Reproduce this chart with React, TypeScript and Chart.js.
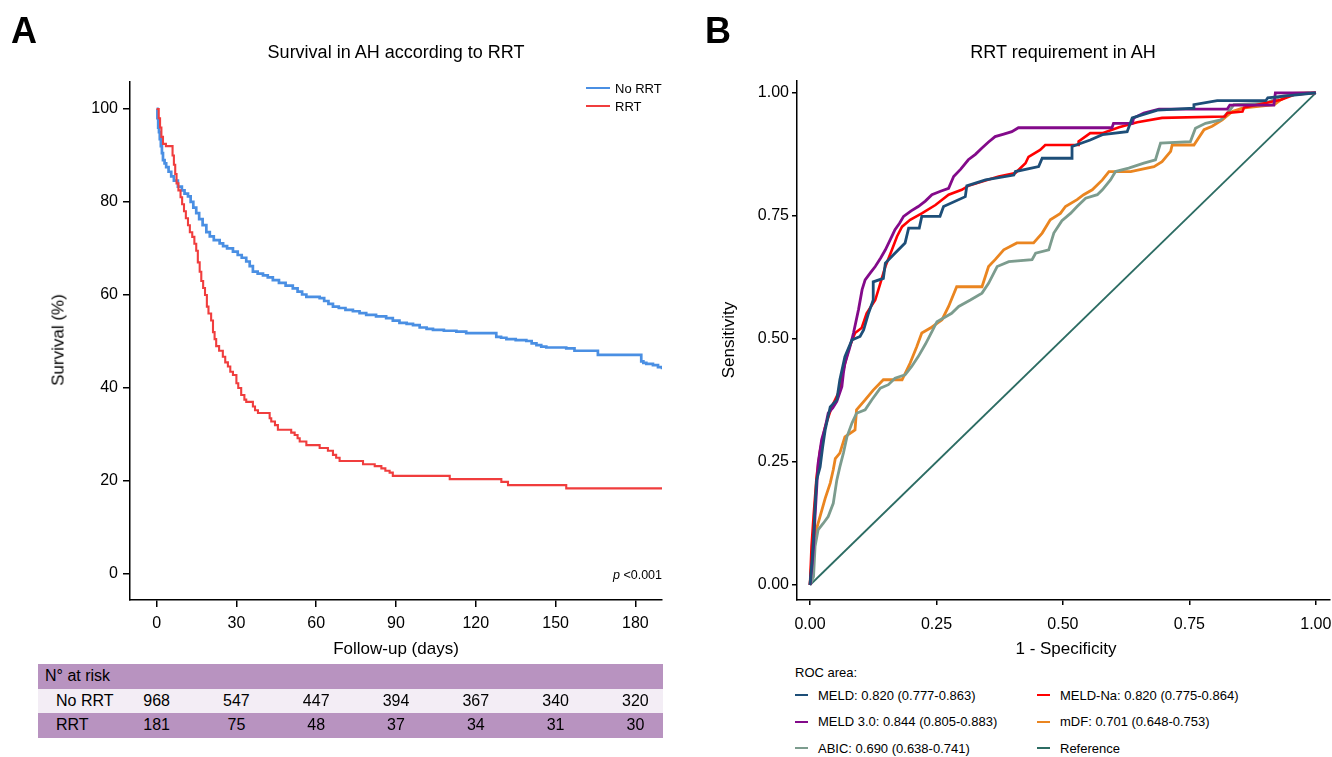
import React, { useEffect, useRef, useState } from "react";
import { Chart, registerables } from "chart.js";

Chart.register(...registerables);

const FONT = "'Liberation Sans', Arial, Helvetica, sans-serif";

// ---------- Panel A : Kaplan-Meier ----------
const kmTicksX = [0, 30, 60, 90, 120, 150, 180];
const kmTicksY = [0, 20, 40, 60, 80, 100];

const noRrtCurve: [number, number][] = [
  [0, 100], [0.3, 98], [0.6, 96], [0.9, 95], [1.2, 93.5], [1.6, 92], [2, 90.5], [2.4, 89], [3, 88.3],
  [3.6, 87.5], [4.5, 86.5], [5.5, 85.5], [6.5, 84.6], [8, 83.3], [9.5, 82.5], [10.5, 81.8], [11.8, 81.2],
  [12.8, 80], [13.8, 78.8], [14.9, 77.6], [16, 76.3], [17.3, 75], [18.7, 73.5], [20, 72.6], [21.5, 71.8],
  [23.7, 71.1], [25, 70.5], [26.5, 70], [28.7, 69.3], [30.5, 68.6], [32, 68], [33.7, 67.2], [35, 66.2],
  [36.2, 65], [38, 64.6], [40, 64.2], [41.8, 63.8], [43.7, 63.2], [46, 62.6], [48.5, 62], [51.2, 61.4],
  [53, 60.7], [54.7, 60.1], [56.3, 59.6], [61.3, 59.3], [63, 58.7], [64.6, 58.1], [66.3, 57.5], [68.5, 57.2],
  [71, 56.8], [73.8, 56.5], [76.3, 56.1], [78.8, 55.7], [82.5, 55.4], [86.3, 55], [88.8, 54.5], [91.3, 54],
  [94, 53.8], [96.4, 53.5], [98.9, 53], [101.5, 52.7], [103.9, 52.5], [108, 52.3], [112.7, 52.1], [116.4, 51.8],
  [127.7, 51], [129.5, 50.8], [131.5, 50.5], [135, 50.3], [139, 50.1], [141, 49.6], [142.8, 49.2], [144.6, 48.9],
  [146.5, 48.7], [154, 48.5], [157.1, 48], [165.9, 47.1], [182.2, 45.7], [183, 45.4], [184.1, 45.2],
  [186.6, 44.9], [188.5, 44.5], [190, 44],
];

const rrtCurve: [number, number][] = [
  [0, 100], [0.8, 98], [1.3, 96], [1.8, 94], [2.4, 92.5], [3.5, 92], [6, 90], [6.5, 88], [7, 86], [7.5, 84],
  [8.2, 82.5], [9, 81], [9.6, 79.5], [10.3, 78], [11, 76.5], [11.8, 75], [12.5, 73.5], [13.4, 72.5], [14.2, 71],
  [14.9, 69.5], [15.5, 67], [16.2, 65], [16.8, 63], [17.5, 61.5], [18.2, 60], [18.9, 57.5], [19.5, 56],
  [20.5, 54.5], [21.2, 52], [21.8, 50.5], [22.4, 49], [23.5, 48], [24.9, 46.7], [25.8, 45.5], [26.8, 44.6],
  [27.7, 43.5], [28.7, 42.8], [30, 41], [30.7, 40], [31.8, 38.5], [33, 37.5], [33.7, 37], [36.2, 36], [37, 35.2],
  [38.1, 34.6], [42.5, 33.5], [43.1, 32.8], [44.5, 32], [45.6, 31], [50.6, 30.4], [51.9, 29.9], [53, 29.2],
  [53.8, 28.5], [56.3, 27.7], [61.3, 27.1], [64.4, 26.5], [66.3, 25.6], [67.5, 25], [68.8, 24.3], [77.6, 23.6],
  [82, 23.2], [84.5, 22.7], [86, 22.2], [87.6, 21.8], [88.8, 21.1], [110.2, 20.4], [129.6, 19.8], [132.1, 19.1],
  [154, 18.4], [190, 18.4],
];

const riskNoRrt = [968, 547, 447, 394, 367, 340, 320];
const riskRrt = [181, 75, 48, 37, 34, 31, 30];

// ---------- Panel B : ROC ----------
const rocTicks = [0, 0.25, 0.5, 0.75, 1];

const rocMeld: [number, number][] = [
  [0, 0], [0.004, 0.05], [0.007, 0.098], [0.01, 0.16], [0.013, 0.213], [0.02, 0.24], [0.025, 0.28], [0.03, 0.315],
  [0.04, 0.362], [0.053, 0.376], [0.059, 0.417], [0.069, 0.464], [0.083, 0.498], [0.099, 0.505], [0.106, 0.518],
  [0.115, 0.55], [0.125, 0.579], [0.125, 0.616], [0.145, 0.623], [0.149, 0.654], [0.165, 0.671], [0.188, 0.695],
  [0.195, 0.725], [0.216, 0.725], [0.221, 0.749], [0.257, 0.749], [0.264, 0.769], [0.307, 0.789], [0.31, 0.811],
  [0.347, 0.823], [0.403, 0.833], [0.406, 0.84], [0.452, 0.85], [0.459, 0.867], [0.518, 0.867], [0.518, 0.891],
  [0.554, 0.904], [0.578, 0.915], [0.627, 0.921], [0.637, 0.949], [0.687, 0.965], [0.759, 0.969], [0.759, 0.976],
  [0.805, 0.984], [0.901, 0.984], [0.905, 0.99], [1, 1],
];

const rocMeldNa: [number, number][] = [
  [0, 0], [0.003, 0.078], [0.007, 0.139], [0.013, 0.22], [0.02, 0.274], [0.03, 0.322], [0.043, 0.362],
  [0.056, 0.39], [0.066, 0.437], [0.076, 0.478], [0.089, 0.512], [0.102, 0.522], [0.112, 0.552], [0.129, 0.579],
  [0.139, 0.613], [0.149, 0.647], [0.162, 0.681], [0.172, 0.708], [0.182, 0.728], [0.198, 0.742], [0.221, 0.755],
  [0.248, 0.772], [0.274, 0.793], [0.3, 0.803], [0.313, 0.811], [0.35, 0.823], [0.373, 0.83], [0.406, 0.837],
  [0.426, 0.857], [0.432, 0.87], [0.455, 0.884], [0.465, 0.894], [0.531, 0.894], [0.531, 0.901], [0.554, 0.918],
  [0.578, 0.918], [0.611, 0.93], [0.647, 0.94], [0.696, 0.949], [0.82, 0.952], [0.825, 0.959], [0.855, 0.962],
  [0.858, 0.97], [0.931, 0.986], [0.957, 0.996], [1, 1],
];

const rocMeld30: [number, number][] = [
  [0, 0], [0.004, 0.04], [0.007, 0.078], [0.01, 0.14], [0.013, 0.193], [0.016, 0.247], [0.023, 0.295],
  [0.03, 0.32], [0.036, 0.349], [0.045, 0.36], [0.053, 0.373], [0.063, 0.403], [0.066, 0.43], [0.069, 0.45],
  [0.078, 0.48], [0.086, 0.512], [0.096, 0.56], [0.103, 0.6], [0.109, 0.62], [0.12, 0.635], [0.129, 0.647],
  [0.14, 0.665], [0.149, 0.681], [0.158, 0.7], [0.168, 0.722], [0.177, 0.735], [0.185, 0.749], [0.2, 0.76],
  [0.214, 0.769], [0.228, 0.78], [0.241, 0.793], [0.258, 0.8], [0.274, 0.806], [0.284, 0.83], [0.298, 0.845],
  [0.313, 0.864], [0.327, 0.875], [0.34, 0.888], [0.353, 0.9], [0.366, 0.911], [0.383, 0.916], [0.399, 0.921],
  [0.412, 0.929], [0.597, 0.929], [0.6, 0.938], [0.637, 0.938], [0.64, 0.949], [0.66, 0.959], [0.69, 0.967],
  [0.825, 0.967], [0.83, 0.975], [0.917, 0.975], [0.92, 1], [1, 1],
];

const rocMdf: [number, number][] = [
  [0, 0], [0.003, 0.044], [0.007, 0.091], [0.016, 0.125], [0.03, 0.176], [0.04, 0.207], [0.046, 0.234],
  [0.05, 0.257], [0.059, 0.268], [0.069, 0.301], [0.089, 0.315], [0.092, 0.356], [0.109, 0.376], [0.125, 0.396],
  [0.145, 0.417], [0.182, 0.417], [0.198, 0.451], [0.211, 0.484], [0.221, 0.512], [0.238, 0.522], [0.261, 0.539],
  [0.274, 0.566], [0.29, 0.606], [0.34, 0.606], [0.353, 0.647], [0.366, 0.661], [0.383, 0.681], [0.409, 0.695],
  [0.442, 0.695], [0.459, 0.715], [0.475, 0.742], [0.495, 0.755], [0.505, 0.769], [0.528, 0.783], [0.541, 0.793],
  [0.558, 0.803], [0.578, 0.823], [0.591, 0.84], [0.634, 0.84], [0.68, 0.85], [0.696, 0.86], [0.713, 0.881],
  [0.716, 0.894], [0.759, 0.894], [0.779, 0.925], [0.795, 0.932], [0.815, 0.945], [0.835, 0.962], [0.855, 0.969],
  [0.918, 0.976], [0.931, 0.986], [0.954, 0.999], [0.984, 1], [1, 1],
];

const rocAbic: [number, number][] = [
  [0, 0], [0.007, 0.017], [0.01, 0.078], [0.016, 0.112], [0.026, 0.125], [0.036, 0.139], [0.046, 0.166],
  [0.053, 0.213], [0.059, 0.24], [0.066, 0.268], [0.073, 0.301], [0.083, 0.329], [0.092, 0.349], [0.109, 0.356],
  [0.122, 0.376], [0.139, 0.4], [0.155, 0.407], [0.168, 0.42], [0.188, 0.427], [0.201, 0.444], [0.214, 0.464],
  [0.228, 0.489], [0.241, 0.515], [0.251, 0.535], [0.28, 0.552], [0.294, 0.566], [0.317, 0.579], [0.34, 0.593],
  [0.353, 0.613], [0.37, 0.647], [0.393, 0.657], [0.439, 0.661], [0.446, 0.674], [0.472, 0.681], [0.482, 0.715],
  [0.498, 0.74], [0.515, 0.755], [0.528, 0.769], [0.545, 0.786], [0.568, 0.793], [0.578, 0.803], [0.594, 0.823],
  [0.604, 0.84], [0.63, 0.847], [0.66, 0.857], [0.683, 0.864], [0.693, 0.898], [0.752, 0.901], [0.762, 0.928],
  [0.782, 0.938], [0.812, 0.945], [0.828, 0.962], [0.838, 0.976], [0.901, 0.979], [0.917, 0.986], [0.931, 0.993],
  [0.984, 1], [1, 1],
];

const rocReference: [number, number][] = [[0, 0], [1, 1]];

const rocLegend = [
  { label: "MELD: 0.820 (0.777-0.863)", color: "#1d4e78" },
  { label: "MELD-Na: 0.820 (0.775-0.864)", color: "#ff0000" },
  { label: "MELD 3.0: 0.844 (0.805-0.883)", color: "#830a8a" },
  { label: "mDF: 0.701 (0.648-0.753)", color: "#ea8520" },
  { label: "ABIC: 0.690 (0.638-0.741)", color: "#7c9c8e" },
  { label: "Reference", color: "#2c6c63" },
];

const KM_BLUE = "#4a8fe3";
const KM_RED = "#f03d3d";
const TABLE_DARK = "#b893c0";
const TABLE_LIGHT = "#f3edf5";

const toXY = (pts: [number, number][]) => pts.map(([x, y]) => ({ x, y }));

function axis(min: number, max: number, ticks: number[], size: number, fmt: (v: number) => string, tickLen: number, pad: number) {
  return {
    type: "linear" as const,
    min,
    max,
    afterBuildTicks: (s: any) => {
      s.ticks = ticks.map((v) => ({ value: v }));
    },
    ticks: {
      font: { family: FONT, size: 16 },
      color: "#000",
      padding: pad,
      maxRotation: 0,
      autoSkip: false,
      callback: (v: any) => fmt(Number(v)),
    },
    grid: { display: true, drawOnChartArea: false, drawTicks: true, tickLength: tickLen, color: "#000", lineWidth: 1.5 },
    border: { display: true, color: "#000", width: 1.5 },
    afterFit: (s: any) => {
      if (s.isHorizontal()) {
        s.height = size;
        s.paddingLeft = 0;
        s.paddingRight = 0;
      } else {
        s.width = size;
        s.paddingTop = 0;
        s.paddingBottom = 0;
      }
    },
  };
}

const T = ({ x, y, size, children, anchor = "start", weight, italic, rotate }: any) => {
  let transform = anchor === "middle" ? "translateX(-50%)" : anchor === "end" ? "translateX(-100%)" : undefined;
  if (rotate) transform = "translate(-50%, -50%) rotate(-90deg)";
  return (
    <div
      style={{
        position: "absolute",
        left: x,
        top: rotate ? y : y - size / 2,
        fontSize: size,
        lineHeight: `${size}px`,
        whiteSpace: "nowrap",
        fontWeight: weight,
        fontStyle: italic ? "italic" : undefined,
        transform,
        color: "#000",
      }}
    >
      {children}
    </div>
  );
};

export default function App() {
  const refA = useRef<HTMLCanvasElement>(null);
  const refB = useRef<HTMLCanvasElement>(null);
  const [riskX, setRiskX] = useState<number[]>([]);

  useEffect(() => {
    const chartA = new Chart(refA.current!, {
      type: "line",
      data: {
        datasets: [
          { label: "No RRT", data: toXY(noRrtCurve), borderColor: KM_BLUE, borderWidth: 2.7, stepped: "before", pointRadius: 0, fill: false, order: 1 },
          { label: "RRT", data: toXY(rrtCurve), borderColor: KM_RED, borderWidth: 2.1, stepped: "before", pointRadius: 0, fill: false, order: 0 },
        ],
      },
      options: {
        animation: false,
        responsive: false,
        devicePixelRatio: 1,
        layout: { padding: { left: 0, right: 18, top: 82, bottom: 0 } },
        plugins: { legend: { display: false }, title: { display: false }, tooltip: { enabled: false } },
        scales: {
          x: axis(-10, 190, kmTicksX, 62, (v) => String(v), 7, 7) as any,
          y: axis(-5.6, 105.8, kmTicksY, 130, (v) => String(v), 7, 5) as any,
        },
      },
    });
    const xs = chartA.scales.x;
    setRiskX(kmTicksX.map((t) => xs.getPixelForValue(t)));

    const rocSets = [
      { data: rocMeld, color: rocLegend[0].color, width: 2.8, order: 0 },
      { data: rocMeld30, color: rocLegend[2].color, width: 2.8, order: 1 },
      { data: rocMeldNa, color: rocLegend[1].color, width: 2.6, order: 2 },
      { data: rocAbic, color: rocLegend[4].color, width: 2.8, order: 3 },
      { data: rocMdf, color: rocLegend[3].color, width: 2.8, order: 4 },
      { data: rocReference, color: rocLegend[5].color, width: 1.8, order: 5 },
    ];
    const chartB = new Chart(refB.current!, {
      type: "line",
      data: {
        datasets: rocSets.map((s) => ({
          data: toXY(s.data),
          borderColor: s.color,
          borderWidth: s.width,
          pointRadius: 0,
          fill: false,
          tension: 0,
          order: s.order,
        })),
      },
      options: {
        animation: false,
        responsive: false,
        devicePixelRatio: 1,
        layout: { padding: { left: 0, right: 2, top: 81, bottom: 0 } },
        plugins: { legend: { display: false }, title: { display: false }, tooltip: { enabled: false } },
        scales: {
          x: axis(-0.0257, 1.028, rocTicks, 62, (v) => v.toFixed(2), 5, 10) as any,
          y: axis(-0.0305, 1.024, rocTicks, 117, (v) => v.toFixed(2), 5, 3) as any,
        },
      },
    });
    return () => {
      chartA.destroy();
      chartB.destroy();
    };
  }, []);

  const rowH = 24.5;
  const tableTop = 664;
  const rows = [
    { label: "N° at risk", bg: TABLE_DARK, values: null as number[] | null },
    { label: "No RRT", bg: TABLE_LIGHT, values: riskNoRrt },
    { label: "RRT", bg: TABLE_DARK, values: riskRrt },
  ];

  return (
    <div style={{ position: "fixed", left: 0, top: 0, width: 1332, height: 757, background: "#fff", fontFamily: FONT, overflow: "hidden" }}>
      <canvas ref={refA} width={680} height={662} style={{ position: "absolute", left: 0, top: 0, width: 680, height: 662 }} />
      <canvas ref={refB} width={652} height={662} style={{ position: "absolute", left: 680, top: 0, width: 652, height: 662 }} />

      <T x={11} y={31} size={36} weight="bold">A</T>
      <T x={705} y={31} size={36} weight="bold">B</T>

      <T x={396} y={52} size={18} anchor="middle">Survival in AH according to RRT</T>
      <T x={1063} y={52} size={18} anchor="middle">RRT requirement in AH</T>

      <T x={58} y={340} size={17} rotate>Survival (%)</T>
      <T x={396} y={648} size={17} anchor="middle">Follow-up (days)</T>
      <T x={728} y={340} size={17} rotate>Sensitivity</T>
      <T x={1066} y={648} size={17} anchor="middle">1 - Specificity</T>

      {/* legend A */}
      <div style={{ position: "absolute", left: 586, top: 87, width: 24, height: 2, background: KM_BLUE }} />
      <T x={615} y={88} size={13}>No RRT</T>
      <div style={{ position: "absolute", left: 586, top: 105, width: 24, height: 2, background: KM_RED }} />
      <T x={615} y={106} size={13}>RRT</T>

      <div style={{ position: "absolute", left: 662, top: 575 - 6.5, fontSize: 12.5, lineHeight: "13px", transform: "translateX(-100%)", whiteSpace: "nowrap" }}>
        <i>p</i> &lt;0.001
      </div>

      {/* risk table */}
      {rows.map((r, i) => (
        <div key={i} style={{ position: "absolute", left: 38, top: tableTop + i * rowH, width: 625, height: rowH, background: r.bg }} />
      ))}
      {rows.map((r, i) => (
        <T key={"l" + i} x={i === 0 ? 45 : 56} y={tableTop + i * rowH + rowH / 2} size={16}>{r.label}</T>
      ))}
      {rows.map((r, i) =>
        r.values
          ? r.values.map((v, j) => (
              <T key={`v${i}-${j}`} x={riskX[j] ?? 0} y={tableTop + i * rowH + rowH / 2} size={16} anchor="middle">
                {riskX.length ? v : ""}
              </T>
            ))
          : null
      )}

      {/* legend B */}
      <T x={795} y={672} size={13}>ROC area:</T>
      {rocLegend.map((l, i) => {
        const col = i % 2;
        const row = Math.floor(i / 2);
        const x = col === 0 ? 795 : 1037;
        const y = 695 + row * 26.5;
        return (
          <React.Fragment key={l.label}>
            <div style={{ position: "absolute", left: x, top: y - 1, width: 13, height: 2, background: l.color }} />
            <T x={x + 23} y={y} size={13}>{l.label}</T>
          </React.Fragment>
        );
      })}
    </div>
  );
}
